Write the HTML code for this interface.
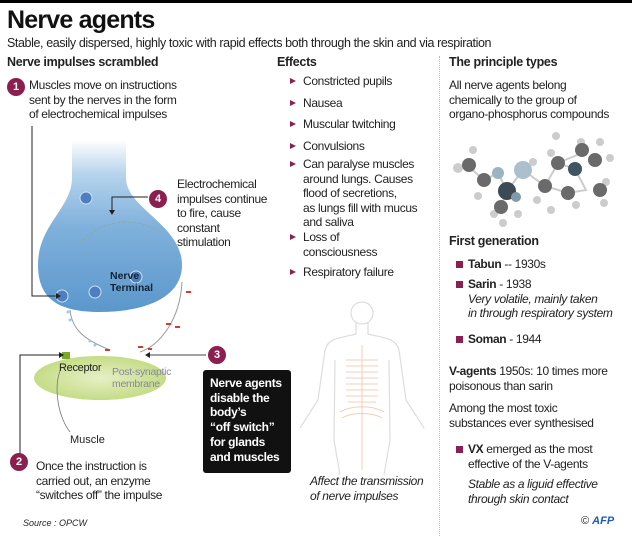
<!DOCTYPE html>
<html><head><meta charset="utf-8"><style>
*{margin:0;padding:0;box-sizing:border-box}
body{width:632px;height:537px;background:#fff;position:relative;overflow:hidden;font-family:"Liberation Sans",sans-serif;color:#222}
.a{position:absolute;white-space:nowrap}
.t{font-size:12px;line-height:14.5px;letter-spacing:-0.35px}
.h{font-size:12.5px;font-weight:bold;letter-spacing:-0.3px}
.num{position:absolute;width:18px;height:18px;border-radius:50%;background:#8b1f4f;color:#fff;font-weight:bold;font-size:11px;text-align:center;line-height:18px}
.tri{position:absolute;width:0;height:0;border-left:6px solid #8b1f4f;border-top:3.5px solid transparent;border-bottom:3.5px solid transparent}
.sq{position:absolute;width:7px;height:7px;background:#8b1f4f}
i{font-style:italic}
</style></head><body>
<div class="a" style="left:0;top:0;width:632px;height:3px;background:#000"></div>
<div class="a" style="left:7px;top:6px;font-size:25px;font-weight:bold;letter-spacing:-0.8px;color:#111">Nerve agents</div>
<div class="a t" style="left:7px;top:36px;font-size:12.5px;letter-spacing:-0.4px">Stable, easily dispersed, highly toxic with rapid effects both through the skin and via respiration</div>
<div class="a h" style="left:7px;top:55px">Nerve impulses scrambled</div>
<div class="a h" style="left:277px;top:55px">Effects</div>
<div class="a h" style="left:449px;top:55px">The principle types</div>
<div class="a" style="left:439px;top:56px;height:480px;border-left:1px dotted #bbb"></div>

<svg class="a" style="left:0;top:0" width="632" height="537">
<defs><linearGradient id="g" x1="0" y1="0" x2="0" y2="1"><stop offset="0" stop-color="#fff"/><stop offset="0.2" stop-color="#b5d3ec"/><stop offset="0.5" stop-color="#80b1dc"/><stop offset="1" stop-color="#5b97cc"/></linearGradient>
<radialGradient id="gr" cx="0.5" cy="0.5" r="0.5"><stop offset="0" stop-color="#e6f0c6"/><stop offset="1" stop-color="#c5dc86"/></radialGradient></defs>
<path d="M72 140 L126 140 L126 178 C126 208 182 225 182 265 C182 300 140 312 100 312 C60 312 38 300 38 265 C38 225 72 208 72 178 Z" fill="url(#g)"/>
<ellipse cx="100" cy="378" rx="66" ry="22" fill="url(#gr)"/>
<rect x="62" y="352" width="8" height="7" fill="#7aa832"/>
<g fill="#4d7fc0" stroke="#cfe0f2" stroke-width="1"><circle cx="86" cy="198" r="6"/><circle cx="136" cy="277" r="6"/><circle cx="95" cy="292" r="6"/><circle cx="62" cy="296" r="6"/></g>
<path d="M79 244 A62 62 0 0 1 160 232" stroke="#8aa" fill="none" stroke-width="1" stroke-dasharray="3 2"/>
<path d="M182 282 C180 320 160 345 140 352" stroke="#999" fill="none" stroke-width="1"/>
<path d="M70 310 C72 330 85 340 110 350" stroke="#999" fill="none" stroke-width="1"/>
<g fill="#d43b2c"><rect x="186" y="291" width="5" height="2"/><rect x="166" y="323" width="5" height="2"/><rect x="175" y="326" width="5" height="2"/><rect x="105" y="349" width="5" height="2"/><rect x="138" y="346" width="5" height="2"/><rect x="148" y="348" width="4" height="2"/></g>
<g fill="#9cc8e8"><circle cx="70" cy="320" r="1.5"/><circle cx="90" cy="341" r="1.5"/><circle cx="68" cy="312" r="1.5"/><circle cx="95" cy="345" r="1.5"/></g>
<path d="M32 126 V296 H56" stroke="#222" fill="none"/><path d="M56 293 L61 296 L56 299Z" fill="#222"/>
<path d="M20 460 V355 H62" stroke="#222" fill="none"/><path d="M59 352 L64 355 L59 358Z" fill="#222"/>
<path d="M206 355 H147" stroke="#444" fill="none"/><path d="M150 352 L145 355 L150 358Z" fill="#222"/>
<path d="M148 197 H112 V212" stroke="#222" fill="none"/><path d="M109 210 L112 215 L115 210Z" fill="#222"/>
<path d="M61 368 C52 390 60 420 70 432" stroke="#777" fill="none" stroke-width="0.8"/>
<rect x="203" y="370" width="88" height="103" rx="3" fill="#111"/>
<g stroke="#ddd" fill="none" stroke-width="1.2">
<circle cx="362" cy="313" r="11"/>
<path d="M356 323 L356 334 C340 338 328 338 325 350 L318 400 L300 428 M368 323 L368 334 C384 338 396 338 399 350 L406 400 L424 428 M335 360 L334 440 L340 475 M389 360 L390 440 L384 475"/>
</g>
<g stroke="#f3cdb8" stroke-width="1" fill="none"><path d="M346 360 H378 M346 366 H378 M346 372 H378 M346 378 H378 M346 384 H378 M346 390 H378 M346 396 H378 M348 402 L376 402 M340 412 C352 405 372 405 384 412 M342 418 C352 412 372 412 382 418 M362 345 V470"/></g>
<g stroke="#ccc" stroke-width="2" fill="none"><path d="M468 166 L484 180 L498 173 L507 191 L523 170 L545 186 L558 163 L577 155 M558 163 L575 169 L586 190 L568 193 L545 186 M507 191 L501 206"/></g>
<g fill="#ccc"><circle cx="458" cy="168" r="5"/><circle cx="473" cy="150" r="4"/><circle cx="478" cy="196" r="4"/><circle cx="503" cy="223" r="4"/><circle cx="518" cy="214" r="4"/><circle cx="556" cy="136" r="4"/><circle cx="600" cy="142" r="4"/><circle cx="610" cy="158" r="4"/><circle cx="606" cy="182" r="4"/><circle cx="604" cy="203" r="4"/><circle cx="551" cy="153" r="4"/><circle cx="533" cy="162" r="4"/><circle cx="576" cy="205" r="4"/><circle cx="551" cy="210" r="4"/><circle cx="581" cy="142" r="4"/><circle cx="494" cy="214" r="4"/><circle cx="537" cy="200" r="4"/></g>
<g fill="#6a6a6a"><circle cx="469" cy="165" r="7"/><circle cx="484" cy="180" r="7"/><circle cx="558" cy="163" r="7"/><circle cx="582" cy="150" r="7"/><circle cx="545" cy="186" r="7"/><circle cx="568" cy="193" r="7"/><circle cx="600" cy="190" r="7"/><circle cx="501" cy="207" r="7"/><circle cx="595" cy="160" r="7"/></g>
<circle cx="507" cy="191" r="9" fill="#3d4a55"/><circle cx="523" cy="170" r="9" fill="#aac0cc"/><circle cx="498" cy="173" r="6" fill="#9ab4c4"/><circle cx="516" cy="197" r="5" fill="#7f9aab"/><circle cx="575" cy="169" r="7" fill="#3f5562"/>
</svg>

<div class="num" style="left:7px;top:78px">1</div>
<div class="a t" style="left:29px;top:78px">Muscles move on instructions<br>sent by the nerves in the form<br>of electrochemical impulses</div>
<div class="num" style="left:149px;top:190px">4</div>
<div class="a t" style="left:177px;top:177px">Electrochemical<br>impulses continue<br>to fire, cause<br>constant<br>stimulation</div>
<div class="a" style="left:110px;top:270px;font-size:10.5px;font-weight:bold;line-height:12px;color:#123">Nerve<br>Terminal</div>
<div class="a" style="left:59px;top:362px;font-size:11px;letter-spacing:-0.3px">Receptor</div>
<div class="a" style="left:112px;top:366px;font-size:10.5px;line-height:12px;color:#889;letter-spacing:-0.3px">Post-synaptic<br>membrane</div>
<div class="a" style="left:70px;top:434px;font-size:11px">Muscle</div>
<div class="num" style="left:10px;top:453px">2</div>
<div class="a t" style="left:36px;top:459px">Once the instruction is<br>carried out, an enzyme<br>“switches off” the impulse</div>
<div class="num" style="left:208px;top:346px">3</div>
<div class="a" style="left:210px;top:376px;color:#fff;font-weight:bold;font-size:12px;line-height:14.7px;letter-spacing:-0.3px">Nerve agents<br>disable the<br>body’s<br>“off switch”<br>for glands<br>and muscles</div>
<div class="a" style="left:23px;top:518px;font-size:9px;font-style:italic">Source : OPCW</div>

<div class="tri" style="left:290px;top:78px"></div><div class="a t" style="left:303px;top:74px">Constricted pupils</div>
<div class="tri" style="left:290px;top:100px"></div><div class="a t" style="left:303px;top:96px">Nausea</div>
<div class="tri" style="left:290px;top:121px"></div><div class="a t" style="left:303px;top:117px">Muscular twitching</div>
<div class="tri" style="left:290px;top:143px"></div><div class="a t" style="left:303px;top:139px">Convulsions</div>
<div class="tri" style="left:290px;top:161px"></div><div class="a t" style="left:303px;top:157px">Can paralyse muscles<br>around lungs. Causes<br>flood of secretions,<br>as lungs fill with mucus<br>and saliva</div>
<div class="tri" style="left:290px;top:234px"></div><div class="a t" style="left:303px;top:230px">Loss of<br>consciousness</div>
<div class="tri" style="left:290px;top:269px"></div><div class="a t" style="left:303px;top:265px">Respiratory failure</div>
<div class="a t" style="left:310px;top:474px"><i>Affect the transmission<br>of nerve impulses</i></div>

<div class="a t" style="left:449px;top:78px">All nerve agents belong<br>chemically to the group of<br>organo-phosphorus compounds</div>
<div class="a h" style="left:449px;top:234px">First generation</div>
<div class="sq" style="left:456px;top:261px"></div><div class="a t" style="left:468px;top:257px"><b>Tabun</b> -- 1930s</div>
<div class="sq" style="left:456px;top:281px"></div><div class="a t" style="left:468px;top:277px"><b>Sarin</b> - 1938<br><i>Very volatile, mainly taken<br>in through respiratory system</i></div>
<div class="sq" style="left:456px;top:336px"></div><div class="a t" style="left:468px;top:332px"><b>Soman</b> - 1944</div>
<div class="a t" style="left:449px;top:364px"><b>V-agents</b> 1950s: 10 times more<br>poisonous than sarin</div>
<div class="a t" style="left:449px;top:401px">Among the most toxic<br>substances ever synthesised</div>
<div class="sq" style="left:456px;top:446px"></div><div class="a t" style="left:468px;top:442px"><b>VX</b> emerged as  the most<br>effective of the V-agents</div>
<div class="a t" style="left:468px;top:477px"><i>Stable as a liguid effective<br>through skin contact</i></div>
<div class="a" style="left:581px;top:515px;font-size:11px">© <b style="color:#1f5bb0;font-style:italic">AFP</b></div>
</body></html>
